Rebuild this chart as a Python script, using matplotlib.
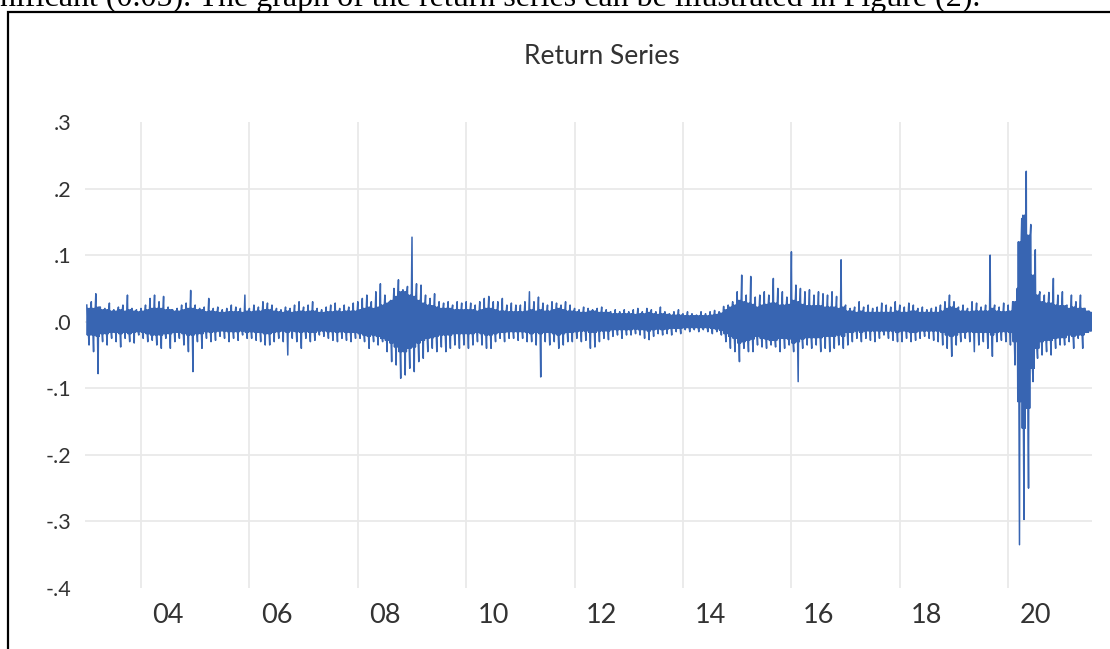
import numpy as np
import pandas as pd
import matplotlib
matplotlib.use("Agg")
import matplotlib.pyplot as plt
from matplotlib.patches import Rectangle

# Monthly observation window of the return series
months = pd.date_range("2003-01-01", "2021-07-01", freq="MS")

# Highest daily return in each month (one row per year)
monthly_high = [
    0.025, 0.030, 0.042, 0.022, 0.020, 0.028, 0.018, 0.022, 0.025, 0.040, 0.020, 0.018,  # 2003
    0.020, 0.025, 0.035, 0.040, 0.030, 0.038, 0.022, 0.018, 0.020, 0.025, 0.028, 0.047,  # 2004
    0.025, 0.020, 0.022, 0.035, 0.020, 0.022, 0.018, 0.020, 0.025, 0.022, 0.020, 0.040,  # 2005
    0.020, 0.025, 0.022, 0.030, 0.028, 0.025, 0.020, 0.018, 0.022, 0.020, 0.025, 0.030,  # 2006
    0.022, 0.025, 0.030, 0.020, 0.018, 0.022, 0.025, 0.028, 0.020, 0.025, 0.022, 0.028,  # 2007
    0.030, 0.035, 0.040, 0.030, 0.045, 0.057, 0.040, 0.030, 0.050, 0.063, 0.048, 0.053,  # 2008
    0.127, 0.057, 0.055, 0.040, 0.035, 0.042, 0.030, 0.028, 0.030, 0.025, 0.030, 0.028,  # 2009
    0.030, 0.028, 0.025, 0.030, 0.035, 0.038, 0.030, 0.030, 0.035, 0.025, 0.028, 0.025,  # 2010
    0.025, 0.030, 0.045, 0.030, 0.037, 0.028, 0.025, 0.030, 0.028, 0.025, 0.030, 0.025,  # 2011
    0.020, 0.018, 0.022, 0.020, 0.018, 0.020, 0.022, 0.018, 0.015, 0.018, 0.015, 0.018,  # 2012
    0.015, 0.018, 0.020, 0.015, 0.020, 0.018, 0.015, 0.022, 0.015, 0.012, 0.015, 0.018,  # 2013
    0.012, 0.015, 0.012, 0.010, 0.015, 0.012, 0.015, 0.017, 0.015, 0.023, 0.025, 0.030,  # 2014
    0.045, 0.070, 0.040, 0.068, 0.037, 0.040, 0.045, 0.040, 0.065, 0.050, 0.045, 0.037,  # 2015
    0.105, 0.055, 0.050, 0.045, 0.048, 0.040, 0.045, 0.042, 0.040, 0.045, 0.038, 0.093,  # 2016
    0.025, 0.020, 0.022, 0.030, 0.022, 0.025, 0.020, 0.022, 0.028, 0.025, 0.022, 0.030,  # 2017
    0.025, 0.022, 0.028, 0.025, 0.020, 0.022, 0.018, 0.020, 0.022, 0.025, 0.030, 0.040,  # 2018
    0.030, 0.022, 0.025, 0.020, 0.030, 0.028, 0.022, 0.025, 0.100, 0.025, 0.022, 0.028,  # 2019
    0.025, 0.030, 0.050, 0.155, 0.226, 0.146, 0.108, 0.045, 0.040, 0.044, 0.065, 0.040,  # 2020
    0.045, 0.025, 0.040, 0.030, 0.040, 0.020, 0.015,                                     # 2021
]

# Lowest daily return in each month
monthly_low = [
    -0.035, -0.045, -0.078, -0.030, -0.035, -0.025, -0.030, -0.038, -0.025, -0.030, -0.032, -0.020,  # 2003
    -0.025, -0.030, -0.028, -0.035, -0.040, -0.025, -0.040, -0.030, -0.025, -0.035, -0.045, -0.075,  # 2004
    -0.030, -0.040, -0.025, -0.030, -0.028, -0.022, -0.025, -0.030, -0.025, -0.028, -0.020, -0.025,  # 2005
    -0.025, -0.028, -0.030, -0.035, -0.035, -0.030, -0.025, -0.030, -0.050, -0.025, -0.030, -0.040,  # 2006
    -0.025, -0.030, -0.028, -0.020, -0.022, -0.025, -0.028, -0.030, -0.025, -0.028, -0.030, -0.025,  # 2007
    -0.025, -0.030, -0.040, -0.030, -0.035, -0.030, -0.045, -0.060, -0.065, -0.085, -0.080, -0.070,  # 2008
    -0.075, -0.060, -0.055, -0.045, -0.040, -0.045, -0.038, -0.045, -0.040, -0.035, -0.040, -0.035,  # 2009
    -0.040, -0.035, -0.030, -0.035, -0.040, -0.040, -0.030, -0.025, -0.030, -0.025, -0.025, -0.028,  # 2010
    -0.025, -0.030, -0.030, -0.035, -0.083, -0.030, -0.035, -0.030, -0.040, -0.035, -0.030, -0.030,  # 2011
    -0.025, -0.030, -0.028, -0.040, -0.038, -0.030, -0.025, -0.027, -0.022, -0.020, -0.025, -0.020,  # 2012
    -0.020, -0.018, -0.020, -0.025, -0.027, -0.022, -0.018, -0.020, -0.018, -0.020, -0.015, -0.018,  # 2013
    -0.012, -0.015, -0.012, -0.015, -0.012, -0.015, -0.018, -0.015, -0.020, -0.030, -0.040, -0.045,  # 2014
    -0.060, -0.040, -0.045, -0.045, -0.035, -0.038, -0.040, -0.035, -0.038, -0.045, -0.040, -0.035,  # 2015
    -0.045, -0.090, -0.040, -0.035, -0.040, -0.035, -0.045, -0.040, -0.045, -0.040, -0.035, -0.040,  # 2016
    -0.035, -0.030, -0.025, -0.030, -0.025, -0.028, -0.030, -0.025, -0.020, -0.025, -0.028, -0.030,  # 2017
    -0.030, -0.025, -0.030, -0.028, -0.025, -0.022, -0.025, -0.028, -0.030, -0.035, -0.040, -0.052,  # 2018
    -0.035, -0.030, -0.025, -0.030, -0.045, -0.035, -0.030, -0.040, -0.052, -0.030, -0.028, -0.030,  # 2019
    -0.035, -0.065, -0.335, -0.297, -0.250, -0.090, -0.055, -0.050, -0.045, -0.050, -0.040, -0.035,  # 2020
    -0.035, -0.030, -0.040, -0.025, -0.040, -0.015, -0.010,                                           # 2021
]

# Typical size of ordinary daily moves in each month (dense core of the band)
monthly_core = [
    0.020, 0.020, 0.022, 0.018, 0.018, 0.016, 0.016, 0.018, 0.016, 0.018, 0.016, 0.015,  # 2003
    0.016, 0.018, 0.020, 0.020, 0.020, 0.018, 0.018, 0.016, 0.016, 0.018, 0.020, 0.020,  # 2004
    0.018, 0.018, 0.015, 0.016, 0.015, 0.014, 0.014, 0.015, 0.015, 0.015, 0.014, 0.016,  # 2005
    0.015, 0.016, 0.016, 0.018, 0.018, 0.016, 0.015, 0.014, 0.016, 0.014, 0.015, 0.016,  # 2006
    0.015, 0.016, 0.016, 0.014, 0.014, 0.015, 0.015, 0.016, 0.015, 0.016, 0.016, 0.016,  # 2007
    0.018, 0.020, 0.022, 0.020, 0.022, 0.025, 0.028, 0.032, 0.038, 0.045, 0.045, 0.040,  # 2008
    0.038, 0.032, 0.028, 0.025, 0.024, 0.022, 0.020, 0.020, 0.020, 0.018, 0.018, 0.018,  # 2009
    0.018, 0.018, 0.016, 0.018, 0.020, 0.020, 0.018, 0.016, 0.016, 0.015, 0.015, 0.015,  # 2010
    0.015, 0.016, 0.018, 0.016, 0.018, 0.016, 0.016, 0.018, 0.020, 0.018, 0.016, 0.016,  # 2011
    0.015, 0.014, 0.014, 0.016, 0.016, 0.014, 0.014, 0.014, 0.012, 0.012, 0.012, 0.012,  # 2012
    0.012, 0.011, 0.012, 0.012, 0.014, 0.012, 0.011, 0.012, 0.011, 0.010, 0.010, 0.010,  # 2013
    0.009, 0.009, 0.009, 0.009, 0.009, 0.009, 0.010, 0.011, 0.013, 0.018, 0.022, 0.025,  # 2014
    0.032, 0.030, 0.028, 0.026, 0.022, 0.025, 0.026, 0.028, 0.028, 0.025, 0.025, 0.026,  # 2015
    0.032, 0.030, 0.026, 0.024, 0.024, 0.024, 0.024, 0.022, 0.022, 0.022, 0.020, 0.022,  # 2016
    0.016, 0.016, 0.014, 0.016, 0.014, 0.014, 0.014, 0.014, 0.014, 0.014, 0.014, 0.016,  # 2017
    0.014, 0.014, 0.016, 0.016, 0.014, 0.014, 0.014, 0.014, 0.014, 0.016, 0.020, 0.022,  # 2018
    0.020, 0.016, 0.016, 0.015, 0.016, 0.016, 0.016, 0.016, 0.020, 0.016, 0.015, 0.015,  # 2019
    0.016, 0.030, 0.120, 0.160, 0.130, 0.070, 0.040, 0.030, 0.028, 0.028, 0.025, 0.024,  # 2020
    0.024, 0.020, 0.022, 0.020, 0.020, 0.016, 0.014,                                     # 2021
]

y_ticks = [0.3, 0.2, 0.1, 0.0, -0.1, -0.2, -0.3, -0.4]
y_tick_labels = [".3", ".2", ".1", ".0", "-.1", "-.2", "-.3", "-.4"]
x_tick_years = [2004, 2006, 2008, 2010, 2012, 2014, 2016, 2018, 2020]
x_tick_labels = ["04", "06", "08", "10", "12", "14", "16", "18", "20"]

title = "Return Series"
caption_tail = "nificant (0.05). The graph of the return series can be illustrated in Figure (2)."

# ---- plotted path: each month swings through its high, its low and
# several ordinary moves of core size in between
t0 = months.year.values + (months.month.values - 1) / 12.0
hi = np.array(monthly_high)
lo = np.array(monthly_low)
core = np.array(monthly_core)
n_sub = 8
step = 1.0 / (12.0 * n_sub)
xs = np.column_stack([t0 + k * step for k in range(n_sub)]).ravel()
ys = np.column_stack([hi, -core, core, -core, lo, core, -core, core]).ravel()

W, H = 1110, 649
fig = plt.figure(figsize=(W / 100, H / 100), dpi=100)
fig.patch.set_facecolor("white")

left_px, right_px, top_px, bottom_px = 85, 1092, 122, 588
ax = fig.add_axes([left_px / W, 1 - bottom_px / H,
                   (right_px - left_px) / W, (bottom_px - top_px) / H])

px_per_year = 54.2
x_ref_px = 141.0  # start of 2004
ax.set_xlim(2004 + (left_px - x_ref_px) / px_per_year,
            2004 + (right_px - x_ref_px) / px_per_year)
ax.set_ylim(-0.4, 0.3)

grid_color = "#e9e9e9"
for yr in x_tick_years:
    ax.axvline(yr, color=grid_color, lw=1.3, zorder=0)
for v in y_ticks[1:-1]:
    ax.axhline(v, color=grid_color, lw=1.3, zorder=0)

ax.plot(xs, ys, color="#3865b2", lw=1.1, zorder=3)

for s in ax.spines.values():
    s.set_visible(False)

label_font = "Lato"
text_color = "#333333"
ax.set_yticks(y_ticks)
ax.set_yticklabels(y_tick_labels, fontsize=15.5, color=text_color, family=label_font)
ax.set_xticks([y + 0.5 for y in x_tick_years])
ax.set_xticklabels(x_tick_labels, fontsize=19.5, color=text_color, family=label_font)
ax.tick_params(axis="y", length=0, pad=10)
ax.tick_params(axis="x", length=0, pad=11)

fig.text(602 / W, 1 - 57 / H, title, ha="center", va="center",
         fontsize=19, color=text_color, family=label_font)

# running text of the surrounding page, cut at the top edge
fig.text(0.0, 1 - 6 / H, caption_tail, ha="left", va="baseline",
         fontsize=23, color="black", family="Liberation Serif")

# frame around the chart, continuing past the right and bottom edges
fig.add_artist(Rectangle((8 / W, -0.1), 1.2, 1.1 - 12 / H,
                         transform=fig.transFigure, fill=False,
                         ec="black", lw=1.6))

fig.savefig("out.png", dpi=100, facecolor="white")
